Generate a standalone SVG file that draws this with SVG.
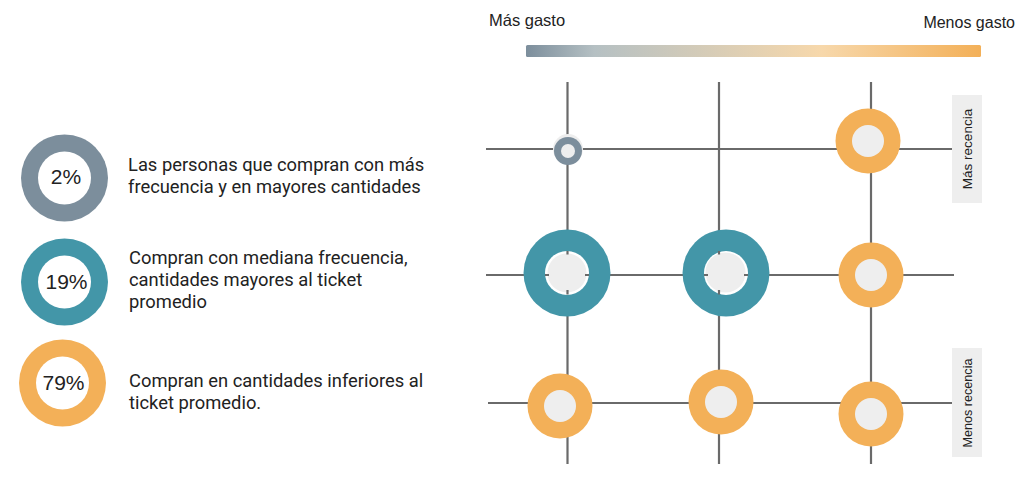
<svg xmlns="http://www.w3.org/2000/svg" width="1024" height="483" viewBox="0 0 1024 483">
<style>
.ln{stroke:#6a6a6a;stroke-width:2.2;fill:none}
.t{font-family:Roboto,"Liberation Sans",sans-serif;font-size:18.35px;fill:#222}
.a{font-family:"Liberation Sans",Arial,sans-serif;fill:#222}
.p{font-family:"Liberation Sans",Arial,sans-serif;font-size:21px;fill:#222;text-anchor:middle}
.o{fill:#f3b058}.c{fill:#4396a8}.g{fill:#7c8e9c}.i{fill:#eeeeee}.w{fill:#fff}
</style>
<defs><linearGradient id="gr" x1="0" x2="1" y1="0" y2="0"><stop offset="0" stop-color="#7c8e9c"/><stop offset="0.15" stop-color="#b5c0c3"/><stop offset="0.65" stop-color="#f7d8ab"/><stop offset="1" stop-color="#f3b058"/></linearGradient></defs>
<rect width="1024" height="483" fill="#fff"/>
<rect x="526" y="45" width="455" height="12" rx="1.5" fill="url(#gr)"/>
<text class="a" x="489" y="26" font-size="16.500">Más gasto</text>
<text class="a" x="1015" y="28" font-size="16" text-anchor="end">Menos gasto</text>
<g id="connectors">
<path class="ln" d="M567.500 82V464M719 82V464M871 82V464M486 149H952M486 275H954M488 403H952"/>
</g>
<g id="rec-top"><rect class="i" x="952" y="95" width="30" height="108"/><text class="a" font-size="13.500" text-anchor="middle" transform="translate(972 149) rotate(-90)">Más recencia</text></g>
<g id="rec-bottom"><rect class="i" x="952" y="348" width="30" height="109"/><text class="a" font-size="12.600" text-anchor="middle" transform="translate(972 403) rotate(-90)">Menos recencia</text></g>
<g id="n-gray"><circle class="i" cx="568" cy="149" r="15"/><circle class="g" cx="568" cy="151" r="14"/><circle class="i" cx="568" cy="151" r="7"/></g>
<g id="n-o1"><circle class="o" cx="868" cy="141" r="32.500"/><circle class="i" cx="868" cy="141" r="16"/></g>
<g id="n-t1"><circle class="c" cx="567" cy="273" r="43.500"/><circle class="w" cx="567" cy="273" r="22"/><circle class="i" cx="567" cy="273" r="19.500"/><path class="ln" d="M567.500 251v3.500M567.500 290v4.500M545 275h4M585 275h4"/></g>
<g id="n-t2"><circle class="c" cx="726" cy="273" r="43.500"/><circle class="w" cx="726" cy="273" r="22"/><circle class="i" cx="725.500" cy="272.500" r="20"/><path class="ln" d="M719 251v3.500M719 290v4.500M704 275h4M744 275h4"/></g>
<g id="n-o2"><circle class="o" cx="871" cy="275" r="32.500"/><circle class="i" cx="871" cy="275" r="16"/></g>
<g id="n-o3"><circle class="o" cx="560" cy="406" r="32.500"/><circle class="i" cx="560" cy="406" r="16"/></g>
<g id="n-o4"><circle class="o" cx="721" cy="402" r="32.500"/><circle class="i" cx="721" cy="402" r="16"/></g>
<g id="n-o5"><circle class="o" cx="871" cy="414" r="32.500"/><circle class="i" cx="871" cy="414" r="16"/></g>
<g id="l-2"><circle class="g" cx="64.500" cy="178" r="43.500"/><circle class="w" cx="64.500" cy="178" r="26.500"/><text class="p" x="66" y="184">2%</text></g>
<g id="l-19"><circle class="c" cx="64.500" cy="282" r="43.500"/><circle class="w" cx="64.500" cy="282" r="26.500"/><text class="p" x="66.500" y="289">19%</text></g>
<g id="l-79"><circle class="o" cx="62.500" cy="383" r="43.500"/><circle class="w" cx="62.500" cy="383" r="26.500"/><text class="p" x="63.500" y="390">79%</text></g>
<g id="d-2"><text class="t" x="128" y="170.500">Las personas que compran con más</text><text class="t" x="128" y="192.500">frecuencia y en mayores cantidades</text></g>
<g id="d-19"><text class="t" x="129" y="263.500">Compran con mediana frecuencia,</text><text class="t" x="129" y="285.500">cantidades mayores al ticket</text><text class="t" x="129" y="307.500">promedio</text></g>
<g id="d-79"><text class="t" x="129" y="386.500">Compran en cantidades inferiores al</text><text class="t" x="129" y="408.500">ticket promedio.</text></g>
</svg>
